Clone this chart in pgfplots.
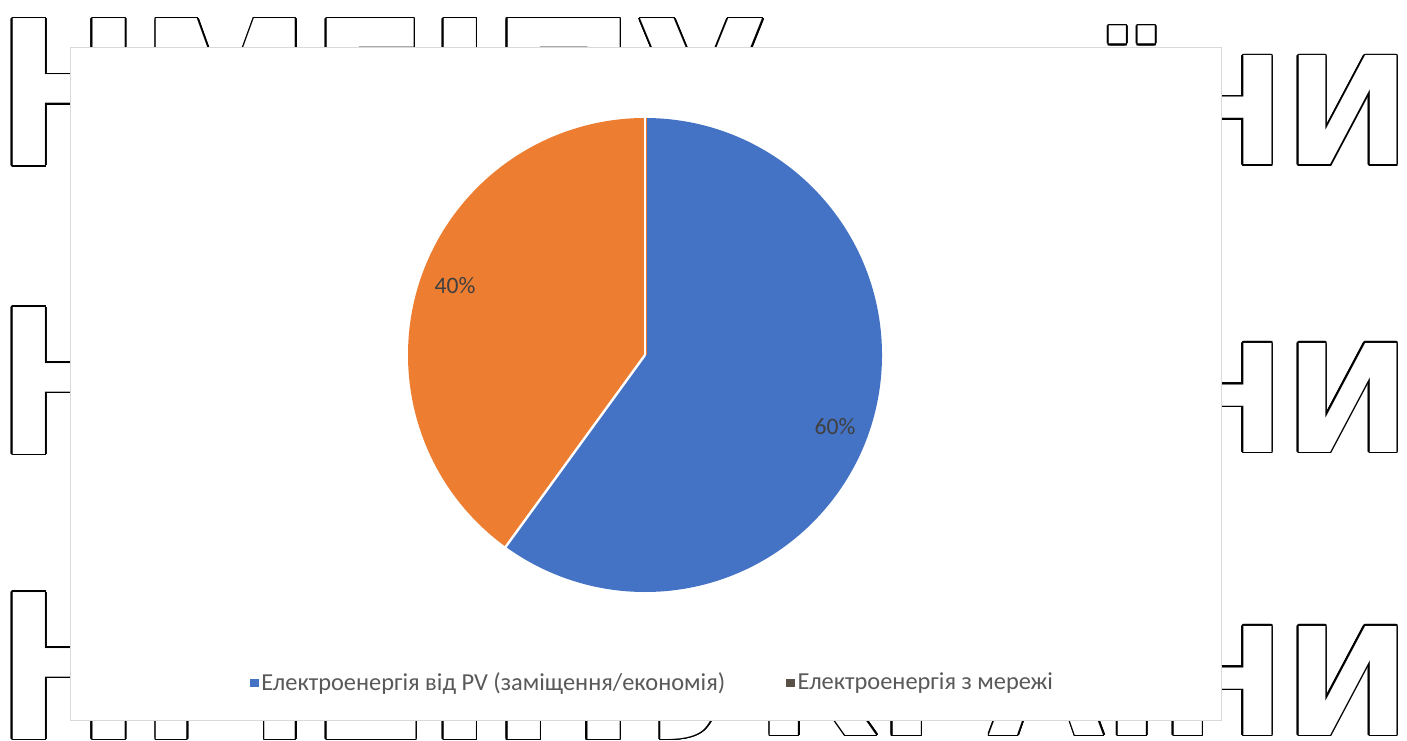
\documentclass[border=0pt]{standalone}
\usepackage{fontspec}
\setmainfont{Carlito}
\newfontfamily\wmfont{DejaVu Sans}
\usepackage{graphicx}
\usepackage{pgfplots}
\usepackage{pgfplotstable}
\pgfplotsset{compat=1.18}
\definecolor{pvblue}{RGB}{68,114,196}
\definecolor{gridorange}{RGB}{237,125,49}
\definecolor{legdark}{RGB}{89,80,72}
\definecolor{lbl}{RGB}{64,64,64}
\definecolor{legtext}{RGB}{89,89,89}
\definecolor{boxgray}{RGB}{217,217,217}

\pgfplotstableread{
share value
pv 60
grid 40
}\piedata

\newcommand\outlined[4]{%
  \foreach \a in {0,22.5,...,337.5}{\node[anchor=#1, inner sep=0pt, text=black] at ([shift={(\a:0.8pt)}]#2,#3) {#4};}
  \node[anchor=#1, inner sep=0pt, text=white] at (#2,#3) {#4};}
\newcommand\tallrow{{\wmfont\bfseries\fontsize{100.8pt}{100pt}\selectfont\scalebox{0.85}[1]{НМЕІПУ}}}
\newcommand\shortrow{{\wmfont\bfseries\fontsize{74.8pt}{75pt}\selectfont КРАЇНИ}}

\begin{document}
\pgfplotstablegetelem{0}{value}\of\piedata \edef\vpv{\pgfplotsretval}%
\pgfplotstablegetelem{1}{value}\of\piedata \edef\vgrid{\pgfplotsretval}%
\begin{tikzpicture}[x=0.5pt,y=0.5pt]
\useasboundingbox (0,0) rectangle (1407,740);
\fill[white] (0,0) rectangle (1407,740);
% watermark
\outlined{base west}{-3}{574}{\tallrow}
\outlined{base west}{-3}{286}{\tallrow}
\outlined{base west}{-3}{1}{\tallrow}
\outlined{base east}{1411}{575}{\shortrow}
\outlined{base east}{1411}{288}{\shortrow}
\outlined{base east}{1411}{5}{\shortrow}
% chart area
\filldraw[fill=white, draw=boxgray, line width=0.5pt] (70,20) rectangle (1221,692);
\begin{axis}[
  at={(0,0)}, anchor=origin,
  x=0.5pt, y=0.5pt,
  xmin=0, xmax=1407, ymin=0, ymax=740,
  hide axis, clip=false,
  legend columns=2,
  legend cell align=left,
  legend style={at={(axis cs:653,57)}, anchor=center, draw=none, fill=none,
    font=\fontsize{12.2pt}{13pt}\selectfont, text=legtext,
    nodes={inner xsep=1.5pt},
    /tikz/every even column/.append style={column sep=29pt}},
]
\addlegendimage{legend image code/.code={\fill[pvblue] (0pt,-1.9pt) rectangle (3.8pt,1.9pt);}}
\addlegendentry{Електроенергія від PV (заміщення/економія)}
\addlegendimage{legend image code/.code={\fill[legdark] (0pt,-1.9pt) rectangle (3.8pt,1.9pt);}}
\addlegendentry{Електроенергія з мережі}
\fill[pvblue] (axis cs:645,385) -- ++(90:118.5pt) arc[start angle=90, delta angle={-3.6*\vpv}, radius=118.5pt] -- cycle;
\fill[gridorange] (axis cs:645,385) -- ++({90-3.6*\vpv}:118.5pt) arc[start angle={90-3.6*\vpv}, delta angle={-3.6*\vgrid}, radius=118.5pt] -- cycle;
\draw[white, line width=1.2pt] (axis cs:645,385) -- ++(90:119.5pt);
\draw[gridorange, line width=0.4pt] (axis cs:646.8,385) -- ++(90:118.4pt);
\draw[white, line width=1.2pt] (axis cs:645,385) -- ++({90-3.6*\vpv}:119.5pt);
\node[text=lbl, font=\fontsize{11.8pt}{12pt}\selectfont] at (axis cs:455,454) {40\%};
\node[text=lbl, font=\fontsize{11.8pt}{12pt}\selectfont] at (axis cs:835,313) {60\%};
\end{axis}
\end{tikzpicture}
\end{document}
